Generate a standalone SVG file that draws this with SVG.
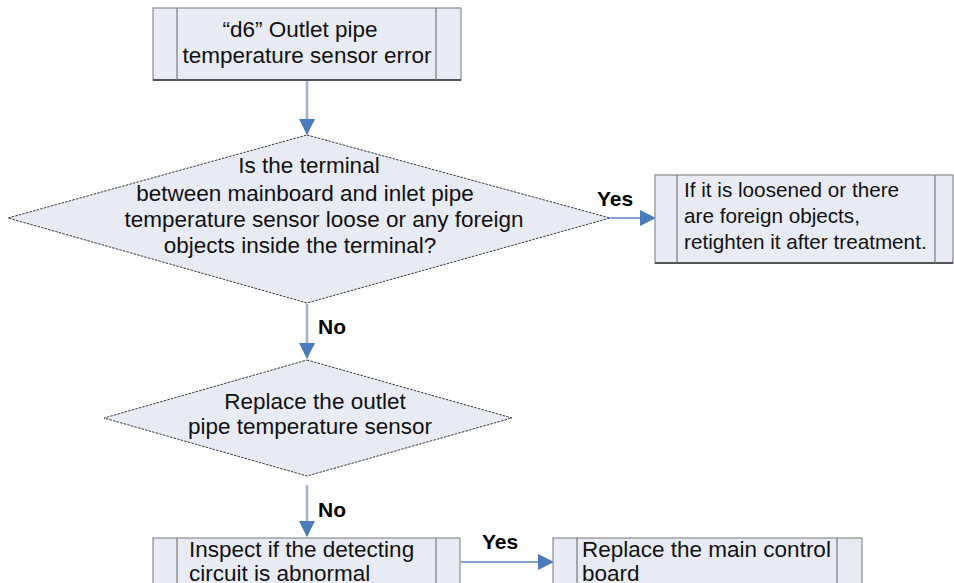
<svg xmlns="http://www.w3.org/2000/svg" width="954" height="583" viewBox="0 0 954 583">
<defs>
<style>
.box{fill:#e8ebf4;stroke:#8c8c8c;stroke-width:1.2}
.bot{stroke:#333;stroke-width:1.5}
.inner{stroke:#7a7a7a;stroke-width:1.2}
.dia{fill:#e8ebf4;stroke:#222;stroke-width:0.9;stroke-dasharray:2.5 1.2}
.t{font-family:"Liberation Sans",Arial,sans-serif;font-size:22.5px;fill:#111}
.s{font-size:20.7px}
.c{text-anchor:middle}
.lbl{font-family:"Liberation Sans",Arial,sans-serif;font-size:21px;font-weight:bold;fill:#000}
.conn{stroke:#9db5da;stroke-width:2.5;fill:none}
.connh{stroke:#5b87c5;stroke-width:1.6;fill:none}
</style>
<marker id="ah" markerWidth="16" markerHeight="18" refX="15" refY="8" orient="auto" markerUnits="userSpaceOnUse">
<path d="M0,0 L16,8 L0,16 Z" fill="#4a7bbd"/>
</marker>
</defs>
<rect width="954" height="583" fill="#fff"/>

<g id="connectors">
<line class="conn" x1="307" y1="81" x2="307" y2="134" marker-end="url(#ah)"/>
<line class="connh" x1="610" y1="218" x2="655" y2="218" marker-end="url(#ah)"/>
<line class="conn" x1="307" y1="304" x2="307" y2="358" marker-end="url(#ah)"/>
<line class="conn" x1="307" y1="485" x2="307" y2="536" marker-end="url(#ah)"/>
<line class="connh" x1="461" y1="562" x2="553" y2="562" marker-end="url(#ah)"/>
<text class="lbl" x="597" y="206">Yes</text>
<text class="lbl" x="318" y="334">No</text>
<text class="lbl" x="318" y="517">No</text>
<text class="lbl" x="482" y="549">Yes</text>
</g>

<g id="start">
<rect class="box" x="153" y="8" width="308" height="72"/>
<line class="bot" x1="153" y1="80" x2="461" y2="80"/>
<line class="inner" x1="177" y1="8" x2="177" y2="80"/>
<line class="inner" x1="436" y1="8" x2="436" y2="80"/>
<text class="t c" x="300" y="37">“d6” Outlet pipe</text>
<text class="t c" x="307" y="63">temperature sensor error</text>
</g>

<g id="decision1">
<polygon class="dia" points="307,135 610,218 307,303 8,218"/>
<text class="t c" x="309" y="173">Is the terminal</text>
<text class="t c" x="305" y="201">between mainboard and inlet pipe</text>
<text class="t c" x="324" y="227">temperature sensor loose or any foreign</text>
<text class="t c" x="300" y="253">objects inside the terminal?</text>
</g>

<g id="retighten">
<rect class="box" x="655" y="175" width="298" height="88"/>
<line class="bot" x1="655" y1="263" x2="953" y2="263"/>
<line class="inner" x1="677" y1="175" x2="677" y2="263"/>
<line class="inner" x1="935" y1="175" x2="935" y2="263"/>
<text class="t s" x="684" y="197">If it is loosened or there</text>
<text class="t s" x="684" y="223">are foreign objects,</text>
<text class="t s" x="684" y="249">retighten it after treatment.</text>
</g>

<g id="decision2">
<polygon class="dia" points="307,360 512,418 307,476 104,418"/>
<text class="t c" x="315" y="409">Replace the outlet</text>
<text class="t c" x="310" y="434">pipe temperature sensor</text>
</g>

<g id="inspect">
<rect class="box" x="153" y="538" width="307" height="60"/>
<line class="inner" x1="177" y1="538" x2="177" y2="598"/>
<line class="inner" x1="436" y1="538" x2="436" y2="598"/>
<text class="t" x="189" y="557">Inspect if the detecting</text>
<text class="t" x="189" y="581">circuit is abnormal</text>
</g>

<g id="replaceboard">
<rect class="box" x="553" y="538" width="309" height="60"/>
<line class="inner" x1="577" y1="538" x2="577" y2="598"/>
<line class="inner" x1="837" y1="538" x2="837" y2="598"/>
<text class="t" x="582" y="557">Replace the main control</text>
<text class="t" x="582" y="581">board</text>
</g>
</svg>
